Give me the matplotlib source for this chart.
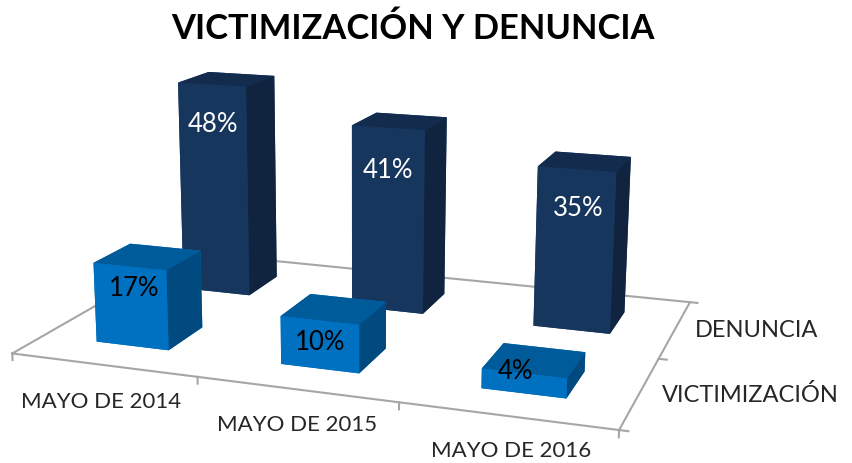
import matplotlib
matplotlib.use('Agg')
import matplotlib.pyplot as plt

plt.rcParams['font.family'] = ['Lato', 'DejaVu Sans']

periods = ['MAYO DE 2014', 'MAYO DE 2015', 'MAYO DE 2016']
series = ['VICTIMIZACIÓN', 'DENUNCIA']
victimizacion = [17, 10, 4]
denuncia = [48, 41, 35]

W, H = 853, 463
dx_px, dy_px = -69.56, 6.71
bar_w, bar_d = 0.3997, 0.3912

# faces in bar3d order: -z, +z, -y, +y, -x, +x
navy = ['#17365D', '#132C4E', '#17365D', '#17365D', '#17365D', '#10243F']
blue = ['#0070C0', '#005B9A', '#0070C0', '#0070C0', '#0070C0', '#004A80']
gray = '#A6A6A6'

fig = plt.figure(figsize=(W / 100, H / 100), dpi=100)
ax = fig.add_axes([dx_px / W, ((H - W) / 2 + dy_px) / H, 1, W / H], projection='3d')
ax.set_axis_off()
ax.computed_zorder = False
ax.patch.set_alpha(0)
ax.set_xlim(0, 3, view_margin=0)
ax.set_ylim(0, 2, view_margin=0)
ax.set_zlim(0, 50, view_margin=0)
ax.set_xticks([])
ax.set_yticks([])
ax.set_zticks([])
ax.view_init(13.9663, -70.5395, -0.1144)
ax.set_proj_type('persp', focal_length=0.3541)
ax.set_box_aspect((3, 1.9924, 1.2062), zoom=0.8512)

# floor outline and ticks
ax.plot([0, 3, 3, 0, 0], [0, 0, 2, 2, 0], [0, 0, 0, 0, 0], color=gray, lw=1.5, zorder=1)
for i in range(4):
    ax.plot([i, i], [0, 0], [0, -1.4], color=gray, lw=1.5, zorder=1)
for j in range(3):
    ax.plot([3, 3.04], [j, j], [0, 0], color=gray, lw=1.5, zorder=1)

# back row first so the front row covers it
for j, (values, colors, order) in enumerate([(victimizacion, blue, 3), (denuncia, navy, 2)]):
    for i, v in enumerate(values):
        ax.bar3d(i + 0.5 - bar_w / 2, j + 0.5 - bar_d / 2, 0, bar_w, bar_d, v,
                 color=colors, shade=False, linewidth=0, zorder=order)

drops = [[4.5, 4.5, -0.1], [9, 9.3, 8.4]]
nudges = [[0.02, 0, -0.04], [0, 0, 0.015]]
for j, (values, tc) in enumerate([(victimizacion, 'black'), (denuncia, 'white')]):
    for i, v in enumerate(values):
        ax.text(i + 0.5 + nudges[j][i], j + 0.5 - bar_d / 2, v - drops[j][i], f'{v}%', color=tc,
                fontsize=18.5, ha='center', va='center', zorder=5)

for i, name in enumerate(periods):
    ax.text(i * 0.97 + 0.67, -0.34, -1.9 + 0.5 * i, name, color='#262626', fontsize=16,
            ha='center', va='center', zorder=5)
for j, name in enumerate(series):
    ax.text(3.1, j + 0.5, 0, name, color='#262626', fontsize=17,
            ha='left', va='center', zorder=5)

fig.text(413 / W, 1 - 29 / H, 'VICTIMIZACIÓN Y DENUNCIA', color='black', fontsize=24.8,
         fontweight='bold', ha='center', va='center')
fig.savefig('out.png', dpi=100)
